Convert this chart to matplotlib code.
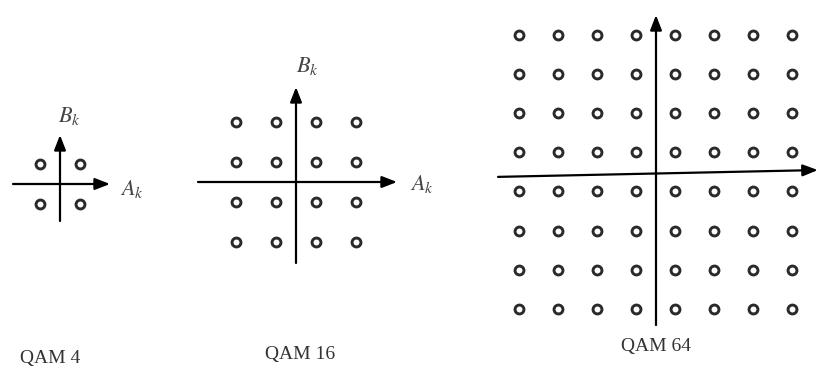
import matplotlib
matplotlib.use("Agg")
import matplotlib.pyplot as plt
import numpy as np

plt.rcParams['mathtext.fontset'] = 'stix'

W, H = 819, 373

# constellation levels for each QAM order
levels_qam4 = [-1, 1]
levels_qam16 = [-3, -1, 1, 3]
levels_qam64 = [-7, -5, -3, -1, 1, 3, 5, 7]
titles = ["QAM 4", "QAM 16", "QAM 64"]

# layout per panel: center pixel (cx, cy), px per unit, axis extents (units)
panels = [
    dict(levels=levels_qam4, cx=60, cy=184, s=20,
         hx=(-2.35, 2.5), hy=(-1.85, 2.45), slant=(0, 0),
         blabel=(0.45, 3.4), alabel=(3.6, -0.25), title=(50, 358)),
    dict(levels=levels_qam16, cx=296, cy=182, s=20,
         hx=(-4.9, 5.05), hy=(-4.05, 4.75), slant=(0, 0),
         blabel=(0.55, 5.8), alabel=(6.3, -0.1), title=(300, 355)),
    dict(levels=levels_qam64, cx=656, cy=172, s=19.5,
         hx=(-8.1, 8.3), hy=(-7.85, 8.05), slant=(-0.25, 0.1),
         blabel=None, alabel=None, title=(656, 346)),
]

fig = plt.figure(figsize=(W / 100, H / 100), dpi=100)
ink = '#2a2a2a'

for i, p in enumerate(panels):
    s = p['s']
    xmin, xmax = -9.5, 9.5
    ymin, ymax = -9.5, 9.5
    left = (p['cx'] + xmin * s) / W
    width = (xmax - xmin) * s / W
    bottom = (H - (p['cy'] - ymin * s)) / H
    height = (ymax - ymin) * s / H
    ax = fig.add_axes([left, bottom, width, height])
    ax.set_xlim(xmin, xmax)
    ax.set_ylim(ymin, ymax)
    ax.axis('off')
    ax.patch.set_alpha(0)

    lv = np.array(p['levels'])
    X, Y = np.meshgrid(lv, lv)
    ax.plot(X.ravel(), Y.ravel(), linestyle='none', marker='o', markersize=6.4,
            markerfacecolor='white', markeredgecolor=ink, markeredgewidth=2.1, zorder=3)

    arrow = dict(arrowstyle='-|>,head_length=0.9,head_width=0.35', lw=1.6,
                 color='black', shrinkA=0, shrinkB=0)
    ax.annotate('', xy=(p['hx'][1], p['slant'][1]), xytext=(p['hx'][0], p['slant'][0]),
                arrowprops=arrow, zorder=2)
    ax.annotate('', xy=(0, p['hy'][1]), xytext=(0, p['hy'][0]),
                arrowprops=arrow, zorder=2)
    if p['blabel']:
        ax.text(*p['blabel'], r'$B_k$', fontsize=16, color='#444', ha='center', va='center')
    if p['alabel']:
        ax.text(*p['alabel'], r'$A_k$', fontsize=16, color='#444', ha='center', va='center')

    tx, ty = p['title']
    fig.text(tx / W, 1 - ty / H, titles[i], fontsize=14, family='Liberation Serif',
             color='#333', ha='center', va='center')

fig.savefig('out.png', dpi=100, facecolor='white')
